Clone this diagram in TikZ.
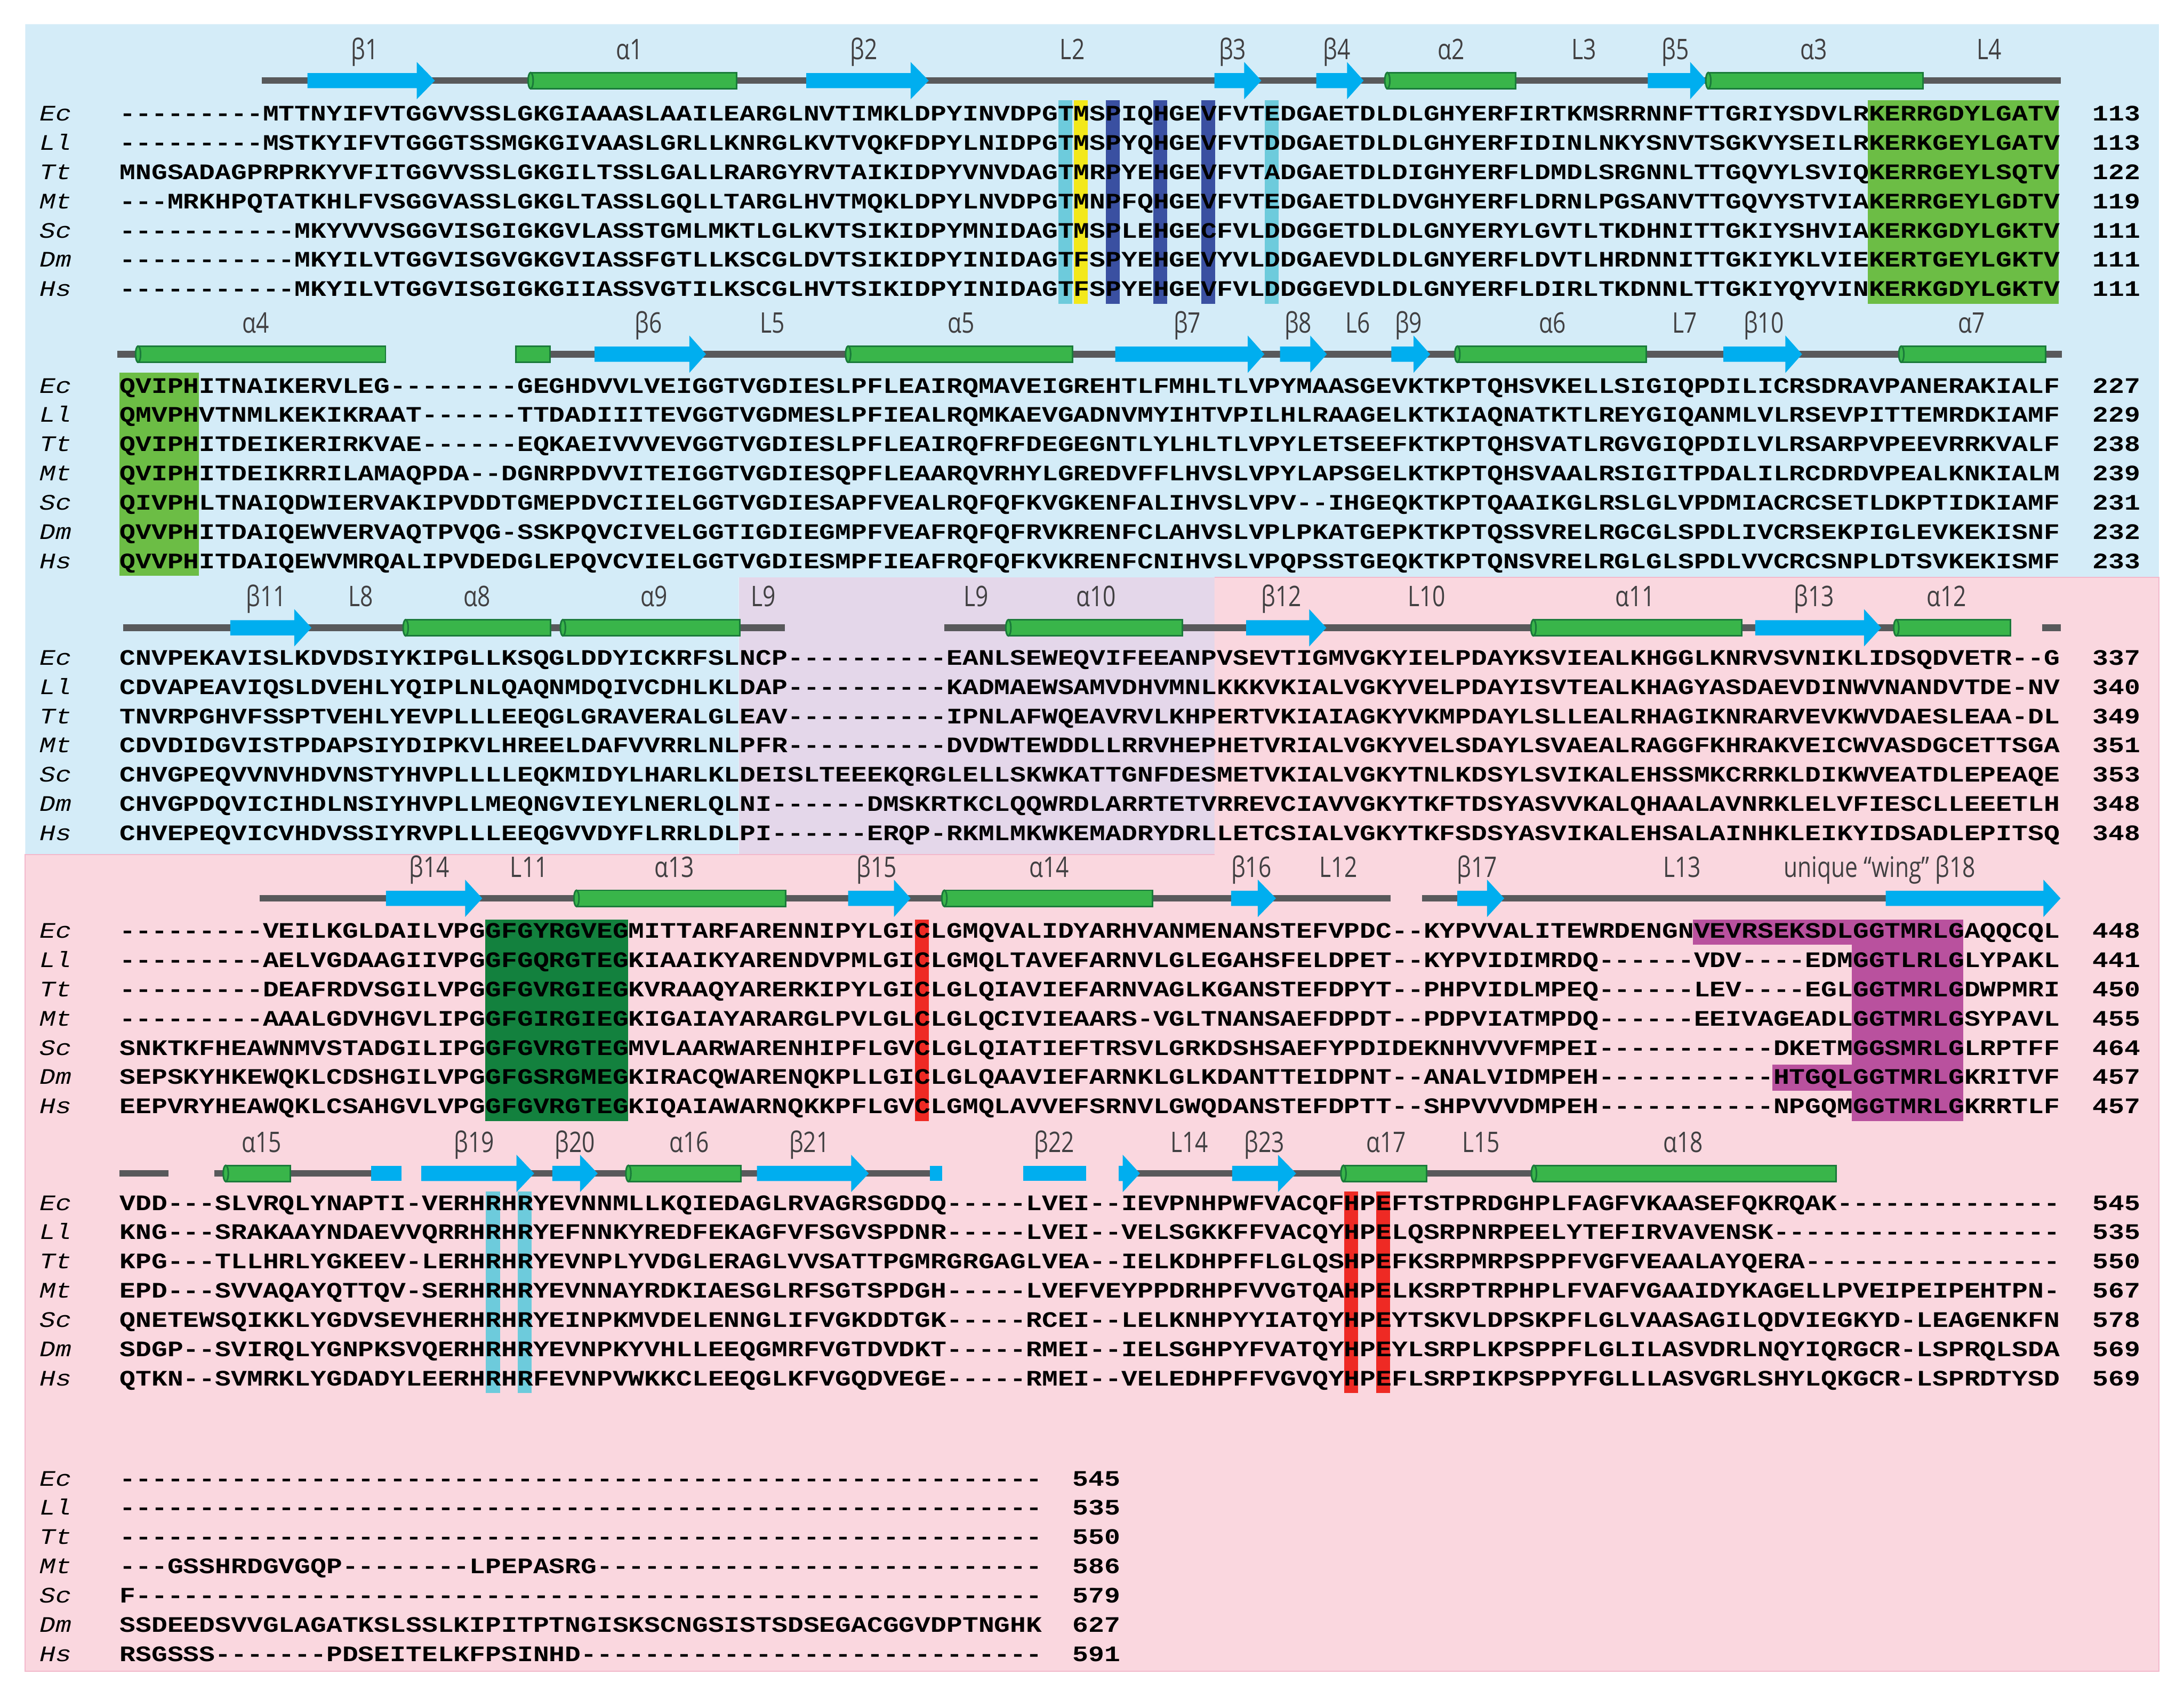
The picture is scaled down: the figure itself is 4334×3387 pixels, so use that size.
\documentclass[tikz,border=0pt]{standalone}
\usepackage{fontspec}
\usetikzlibrary{calc}
\newfontfamily\seqfont{Liberation Mono}[Ligatures=TeXOff, FakeStretch=1.1964]
\newfontfamily\lblfont{Open Sans}[FakeStretch=0.8]
\definecolor{bgblue}{HTML}{D4ECF8}
\definecolor{bgpink}{HTML}{FAD7DF}
\definecolor{bglav}{HTML}{E4D7EA}
\definecolor{pinkline}{HTML}{F2B8CB}
\definecolor{strandblue}{HTML}{00AEEF}
\definecolor{helixgreen}{HTML}{39B54A}
\definecolor{helixdark}{HTML}{1A7A3A}
\definecolor{bargrey}{HTML}{58595B}
\definecolor{lblgrey}{HTML}{414042}
\definecolor{hlcyan}{HTML}{6DCBDC}
\definecolor{hlyellow}{HTML}{F3E81A}
\definecolor{hldblue}{HTML}{3A50A1}
\definecolor{hlgreen}{HTML}{6CBD45}
\definecolor{hldgreen}{HTML}{13813E}
\definecolor{hlred}{HTML}{EE2A24}
\definecolor{hlmag}{HTML}{B9519E}
\tikzset{
  seqrow/.style={font=\seqfont\bfseries\fontsize{12.5}{14}\selectfont, inner sep=0pt, anchor=base west},
  spname/.style={font=\seqfont\itshape\fontsize{12.5}{14}\selectfont, inner sep=0pt, anchor=base west},
  resnum/.style={font=\seqfont\bfseries\fontsize{12.5}{14}\selectfont, inner sep=0pt, anchor=base west},
  sslabel/.style={font=\lblfont\fontsize{16}{18}\selectfont, text=lblgrey, inner sep=0pt, anchor=base},
  ssbar/.style={draw=bargrey, line width=3.7pt},
  helixbox/.style={draw=helixdark, fill=helixgreen, line width=0.9pt}
}
% strand: start, head base, tip, y
\newcommand{\sstrand}[4]{\fill[strandblue] (#1,#4-15) -- (#2,#4-15) -- (#2,#4-37) -- (#3,#4) -- (#2,#4+37) -- (#2,#4+15) -- (#1,#4+15) -- cycle;}
% helix: start, end, y
\newcommand{\shelix}[3]{\draw[helixbox] (#1,#3-16) rectangle (#2,#3+16);
  \draw[helixbox] (#1,#3) ellipse [x radius=5, y radius=16];}
\newcommand{\sblue}[3]{\fill[strandblue] (#1,#3-15) rectangle (#2,#3+15);}
% highlight over columns c1..c2
\newcommand{\colhl}[5]{\fill[#1] ({237+(#2-1)*31.54},#4) rectangle ({237+#3*31.54},#5);}
\newcommand{\onehl}[4]{\fill[#1] ({239+(#2-1)*31.54},#3) rectangle ({235+#2*31.54},#4);}

\begin{document}
\begin{tikzpicture}[x=0.01cm, y=-0.01cm]
\useasboundingbox (0,0) rectangle (4334,3387);
\fill[white] (0,0) rectangle (4334,3387);

% backgrounds
\fill[bgblue] (50,48) -- (4284,48) -- (4284,1146) -- (1466,1146) -- (1466,1696) -- (50,1696) -- cycle;
\fill[bglav] (1466,1146) rectangle (2410,1696);
\fill[bgpink] (2410,1146) -- (4284,1146) -- (4284,3317) -- (50,3317) -- (50,1696) -- (2410,1696) -- cycle;
\draw[pinkline, line width=0.5pt] (2410,1146) -- (4284,1146) -- (4284,3317) -- (50,3317) -- (50,1696) -- (2410,1696);

% block 1 highlights
\onehl{hlcyan}{60}{199}{603}
\onehl{hlyellow}{61}{199}{603}
\onehl{hldblue}{63}{199}{603}
\onehl{hldblue}{66}{199}{603}
\onehl{hldblue}{69}{199}{603}
\onehl{hlcyan}{73}{199}{603}
\colhl{hlgreen}{111}{122}{199}{603}
% block 2
\colhl{hlgreen}{1}{5}{740}{1143}
% block 4
\colhl{hldgreen}{24}{32}{1825}{2225}
\onehl{hlred}{51}{1825}{2225}
\colhl{hlmag}{100}{116}{1825}{1875}
\colhl{hlmag}{110}{116}{1825}{2225}
\colhl{hlmag}{105}{109}{2113}{2165}
% block 5
\onehl{hlcyan}{24}{2365}{2765}
\onehl{hlcyan}{26}{2365}{2765}
\onehl{hlred}{78}{2365}{2765}
\onehl{hlred}{80}{2365}{2765}

% block 1 structure
\draw[ssbar] (519,160) -- (4089,160);
\sstrand{610}{827}{863}{160}
\shelix{1053}{1462}{160}
\sstrand{1600}{1807}{1843}{160}
\sstrand{2410}{2469}{2503}{160}
\sstrand{2612}{2673}{2706}{160}
\shelix{2753}{3008}{160}
\sstrand{3270}{3354}{3387}{160}
\shelix{3390}{3816}{160}
\foreach \lx/\lt [count=\k] in {724/β1, 1249/α1, 1714/β2, 2128/L2, 2446/β3, 2653/β4, 2880/α2, 3143/L3, 3325/β5, 3599/α3, 3947/L4}
  \node[sslabel] (ss1-\k) at (\lx,118) {\lt};

% block 2 structure
\draw[ssbar] (233,703) -- (274,703);
\draw[ssbar] (1024,703) -- (4092,703);
\shelix{274}{765}{703}
\draw[helixbox] (1024,687) rectangle (1091,719);
\sstrand{1180}{1368}{1401}{703}
\shelix{1683}{2128}{703}
\sstrand{2213}{2476}{2509}{703}
\sstrand{2540}{2600}{2633}{703}
\sstrand{2761}{2805}{2838}{703}
\shelix{2892}{3267}{703}
\sstrand{3420}{3543}{3576}{703}
\shelix{3773}{4059}{703}
\foreach \lx/\lt [count=\k] in {508/α4, 1287/β6, 1533/L5, 1907/α5, 2356/β7, 2576/β8, 2695/L6, 2795/β9, 3081/α6, 3343/L7, 3500/β10, 3912/α7}
  \node[sslabel] (ss2-\k) at (\lx,661) {\lt};

% block 3 structure
\draw[ssbar] (244,1246) -- (1557,1246);
\draw[ssbar] (1874,1246) -- (3989,1246);
\draw[ssbar] (4052,1246) -- (4089,1246);
\sstrand{457}{584}{618}{1246}
\shelix{805}{1093}{1246}
\shelix{1117}{1468}{1246}
\shelix{2001}{2346}{1246}
\sstrand{2473}{2598}{2632}{1246}
\shelix{3043}{3456}{1246}
\sstrand{3483}{3699}{3733}{1246}
\shelix{3763}{3989}{1246}
\foreach \lx/\lt [count=\k] in {528/β11, 716/L8, 947/α8, 1298/α9, 1515/L9, 1937/L9, 2175/α10, 2543/β12, 2831/L10, 3245/α11, 3600/β13, 3863/α12}
  \node[sslabel] (ss3-\k) at (\lx,1204) {\lt};

% block 4 structure
\draw[ssbar] (515,1783) -- (2759,1783);
\draw[ssbar] (2822,1783) -- (3742,1783);
\sstrand{766}{923}{957}{1783}
\shelix{1144}{1559}{1783}
\sstrand{1683}{1774}{1807}{1783}
\shelix{1874}{2287}{1783}
\sstrand{2443}{2496}{2532}{1783}
\sstrand{2892}{2951}{2985}{1783}
\sstrand{3742}{4055}{4089}{1783}
\foreach \lx/\lt [count=\k] in {852/β14, 1050/L11, 1338/α13, 1740/β15, 2082/α14, 2483/β16, 2656/L12, 2931/β17, 3338/L13, 3730/unique “wing” β18}
  \node[sslabel] (ss4-\k) at (\lx,1741) {\lt};

% block 5 structure
\draw[ssbar] (237,2329) -- (334,2329);
\draw[ssbar] (425,2329) -- (736,2329);
\draw[ssbar] (836,2329) -- (1870,2329);
\draw[ssbar] (2220,2329) -- (3044,2329);
\shelix{448}{576}{2329}
\sblue{736}{797}{2329}
\sstrand{836}{1025}{1060}{2329}
\sstrand{1096}{1151}{1186}{2329}
\shelix{1247}{1470}{2329}
\sstrand{1502}{1689}{1724}{2329}
\sblue{1845}{1870}{2329}
\sblue{2031}{2155}{2329}
\sstrand{2220}{2228}{2262}{2329}
\sstrand{2445}{2536}{2572}{2329}
\shelix{2666}{2831}{2329}
\shelix{3044}{3644}{2329}
\foreach \lx/\lt [count=\k] in {519/α15, 941/β19, 1141/β20, 1368/α16, 1606/β21, 2092/β22, 2360/L14, 2509/β23, 2751/α17, 2939/L15, 3340/α18}
  \node[sslabel] (ss5-\k) at (\lx,2287) {\lt};

% block 1 sequences
\foreach \sp/\sq/\nr [count=\i from 0] in {
  Ec/---------MTTNYIFVTGGVVSSLGKGIAAASLAAILEARGLNVTIMKLDPYINVDPGTMSPIQHGEVFVTEDGAETDLDLGHYERFIRTKMSRRNNFTTGRIYSDVLRKERRGDYLGATV/113,
  Ll/---------MSTKYIFVTGGGTSSMGKGIVAASLGRLLKNRGLKVTVQKFDPYLNIDPGTMSPYQHGEVFVTDDGAETDLDLGHYERFIDINLNKYSNVTSGKVYSEILRKERKGEYLGATV/113,
  Tt/MNGSADAGPRPRKYVFITGGVVSSLGKGILTSSLGALLRARGYRVTAIKIDPYVNVDAGTMRPYEHGEVFVTADGAETDLDIGHYERFLDMDLSRGNNLTTGQVYLSVIQKERRGEYLSQTV/122,
  Mt/---MRKHPQTATKHLFVSGGVASSLGKGLTASSLGQLLTARGLHVTMQKLDPYLNVDPGTMNPFQHGEVFVTEDGAETDLDVGHYERFLDRNLPGSANVTTGQVYSTVIAKERRGEYLGDTV/119,
  Sc/-----------MKYVVVSGGVISGIGKGVLASSTGMLMKTLGLKVTSIKIDPYMNIDAGTMSPLEHGECFVLDDGGETDLDLGNYERYLGVTLTKDHNITTGKIYSHVIAKERKGDYLGKTV/111,
  Dm/-----------MKYILVTGGVISGVGKGVIASSFGTLLKSCGLDVTSIKIDPYINIDAGTFSPYEHGEVYVLDDGAEVDLDLGNYERFLDVTLHRDNNITTGKIYKLVIEKERTGEYLGKTV/111,
  Hs/-----------MKYILVTGGVISGIGKGIIASSVGTILKSCGLHVTSIKIDPYINIDAGTFSPYEHGEVFVLDDGGEVDLDLGNYERFLDIRLTKDNNLTTGKIYQYVINKERKGDYLGKTV/111}{
  \node[spname] (n1-\i) at (78,240+58*\i) {\sp};
  \node[seqrow] (s1-\i) at (237,240+58*\i) {\sq};
  \node[resnum] (r1-\i) at (4152,240+58*\i) {\nr};
}

% block 2 sequences
\foreach \sp/\sq/\nr [count=\i from 0] in {
  Ec/QVIPHITNAIKERVLEG--------GEGHDVVLVEIGGTVGDIESLPFLEAIRQMAVEIGREHTLFMHLTLVPYMAASGEVKTKPTQHSVKELLSIGIQPDILICRSDRAVPANERAKIALF/227,
  Ll/QMVPHVTNMLKEKIKRAAT------TTDADIIITEVGGTVGDMESLPFIEALRQMKAEVGADNVMYIHTVPILHLRAAGELKTKIAQNATKTLREYGIQANMLVLRSEVPITTEMRDKIAMF/229,
  Tt/QVIPHITDEIKERIRKVAE------EQKAEIVVVEVGGTVGDIESLPFLEAIRQFRFDEGEGNTLYLHLTLVPYLETSEEFKTKPTQHSVATLRGVGIQPDILVLRSARPVPEEVRRKVALF/238,
  Mt/QVIPHITDEIKRRILAMAQPDA--DGNRPDVVITEIGGTVGDIESQPFLEAARQVRHYLGREDVFFLHVSLVPYLAPSGELKTKPTQHSVAALRSIGITPDALILRCDRDVPEALKNKIALM/239,
  Sc/QIVPHLTNAIQDWIERVAKIPVDDTGMEPDVCIIELGGTVGDIESAPFVEALRQFQFKVGKENFALIHVSLVPV--IHGEQKTKPTQAAIKGLRSLGLVPDMIACRCSETLDKPTIDKIAMF/231,
  Dm/QVVPHITDAIQEWVERVAQTPVQG-SSKPQVCIVELGGTIGDIEGMPFVEAFRQFQFRVKRENFCLAHVSLVPLPKATGEPKTKPTQSSVRELRGCGLSPDLIVCRSEKPIGLEVKEKISNF/232,
  Hs/QVVPHITDAIQEWVMRQALIPVDEDGLEPQVCVIELGGTVGDIESMPFIEAFRQFQFKVKRENFCNIHVSLVPQPSSTGEQKTKPTQNSVRELRGLGLSPDLVVCRCSNPLDTSVKEKISMF/233}{
  \node[spname] (n2-\i) at (78,780+58*\i) {\sp};
  \node[seqrow] (s2-\i) at (237,780+58*\i) {\sq};
  \node[resnum] (r2-\i) at (4152,780+58*\i) {\nr};
}

% block 3 sequences
\foreach \sp/\sq/\nr [count=\i from 0] in {
  Ec/CNVPEKAVISLKDVDSIYKIPGLLKSQGLDDYICKRFSLNCP----------EANLSEWEQVIFEEANPVSEVTIGMVGKYIELPDAYKSVIEALKHGGLKNRVSVNIKLIDSQDVETR--G/337,
  Ll/CDVAPEAVIQSLDVEHLYQIPLNLQAQNMDQIVCDHLKLDAP----------KADMAEWSAMVDHVMNLKKKVKIALVGKYVELPDAYISVTEALKHAGYASDAEVDINWVNANDVTDE-NV/340,
  Tt/TNVRPGHVFSSPTVEHLYEVPLLLEEQGLGRAVERALGLEAV----------IPNLAFWQEAVRVLKHPERTVKIAIAGKYVKMPDAYLSLLEALRHAGIKNRARVEVKWVDAESLEAA-DL/349,
  Mt/CDVDIDGVISTPDAPSIYDIPKVLHREELDAFVVRRLNLPFR----------DVDWTEWDDLLRRVHEPHETVRIALVGKYVELSDAYLSVAEALRAGGFKHRAKVEICWVASDGCETTSGA/351,
  Sc/CHVGPEQVVNVHDVNSTYHVPLLLLEQKMIDYLHARLKLDEISLTEEEKQRGLELLSKWKATTGNFDESMETVKIALVGKYTNLKDSYLSVIKALEHSSMKCRRKLDIKWVEATDLEPEAQE/353,
  Dm/CHVGPDQVICIHDLNSIYHVPLLMEQNGVIEYLNERLQLNI------DMSKRTKCLQQWRDLARRTETVRREVCIAVVGKYTKFTDSYASVVKALQHAALAVNRKLELVFIESCLLEEETLH/348,
  Hs/CHVEPEQVICVHDVSSIYRVPLLLEEQGVVDYFLRRLDLPI------ERQP-RKMLMKWKEMADRYDRLLETCSIALVGKYTKFSDSYASVIKALEHSALAINHKLEIKYIDSADLEPITSQ/348}{
  \node[spname] (n3-\i) at (78,1320+58*\i) {\sp};
  \node[seqrow] (s3-\i) at (237,1320+58*\i) {\sq};
  \node[resnum] (r3-\i) at (4152,1320+58*\i) {\nr};
}

% block 4 sequences
\foreach \sp/\sq/\nr [count=\i from 0] in {
  Ec/---------VEILKGLDAILVPGGFGYRGVEGMITTARFARENNIPYLGICLGMQVALIDYARHVANMENANSTEFVPDC--KYPVVALITEWRDENGNVEVRSEKSDLGGTMRLGAQQCQL/448,
  Ll/---------AELVGDAAGIIVPGGFGQRGTEGKIAAIKYARENDVPMLGICLGMQLTAVEFARNVLGLEGAHSFELDPET--KYPVIDIMRDQ------VDV----EDMGGTLRLGLYPAKL/441,
  Tt/---------DEAFRDVSGILVPGGFGVRGIEGKVRAAQYARERKIPYLGICLGLQIAVIEFARNVAGLKGANSTEFDPYT--PHPVIDLMPEQ------LEV----EGLGGTMRLGDWPMRI/450,
  Mt/---------AAALGDVHGVLIPGGFGIRGIEGKIGAIAYARARGLPVLGLCLGLQCIVIEAARS-VGLTNANSAEFDPDT--PDPVIATMPDQ------EEIVAGEADLGGTMRLGSYPAVL/455,
  Sc/SNKTKFHEAWNMVSTADGILIPGGFGVRGTEGMVLAARWARENHIPFLGVCLGLQIATIEFTRSVLGRKDSHSAEFYPDIDEKNHVVVFMPEI-----------DKETMGGSMRLGLRPTFF/464,
  Dm/SEPSKYHKEWQKLCDSHGILVPGGFGSRGMEGKIRACQWARENQKPLLGICLGLQAAVIEFARNKLGLKDANTTEIDPNT--ANALVIDMPEH-----------HTGQLGGTMRLGKRITVF/457,
  Hs/EEPVRYHEAWQKLCSAHGVLVPGGFGVRGTEGKIQAIAWARNQKKPFLGVCLGMQLAVVEFSRNVLGWQDANSTEFDPTT--SHPVVVDMPEH-----------NPGQMGGTMRLGKRRTLF/457}{
  \node[spname] (n4-\i) at (78,1862+58*\i) {\sp};
  \node[seqrow] (s4-\i) at (237,1862+58*\i) {\sq};
  \node[resnum] (r4-\i) at (4152,1862+58*\i) {\nr};
}

% block 5 sequences
\foreach \sp/\sq/\nr [count=\i from 0] in {
  Ec/VDD---SLVRQLYNAPTI-VERHRHRYEVNNMLLKQIEDAGLRVAGRSGDDQ-----LVEI--IEVPNHPWFVACQFHPEFTSTPRDGHPLFAGFVKAASEFQKRQAK--------------/545,
  Ll/KNG---SRAKAAYNDAEVVQRRHRHRYEFNNKYREDFEKAGFVFSGVSPDNR-----LVEI--VELSGKKFFVACQYHPELQSRPNRPEELYTEFIRVAVENSK------------------/535,
  Tt/KPG---TLLHRLYGKEEV-LERHRHRYEVNPLYVDGLERAGLVVSATTPGMRGRGAGLVEA--IELKDHPFFLGLQSHPEFKSRPMRPSPPFVGFVEAALAYQERA----------------/550,
  Mt/EPD---SVVAQAYQTTQV-SERHRHRYEVNNAYRDKIAESGLRFSGTSPDGH-----LVEFVEYPPDRHPFVVGTQAHPELKSRPTRPHPLFVAFVGAAIDYKAGELLPVEIPEIPEHTPN-/567,
  Sc/QNETEWSQIKKLYGDVSEVHERHRHRYEINPKMVDELENNGLIFVGKDDTGK-----RCEI--LELKNHPYYIATQYHPEYTSKVLDPSKPFLGLVAASAGILQDVIEGKYD-LEAGENKFN/578,
  Dm/SDGP--SVIRQLYGNPKSVQERHRHRYEVNPKYVHLLEEQGMRFVGTDVDKT-----RMEI--IELSGHPYFVATQYHPEYLSRPLKPSPPFLGLILASVDRLNQYIQRGCR-LSPRQLSDA/569,
  Hs/QTKN--SVMRKLYGDADYLEERHRHRFEVNPVWKKCLEEQGLKFVGQDVEGE-----RMEI--VELEDHPFFVGVQYHPEFLSRPIKPSPPYFGLLLASVGRLSHYLQKGCR-LSPRDTYSD/569}{
  \node[spname] (n5-\i) at (78,2402+58*\i) {\sp};
  \node[seqrow] (s5-\i) at (237,2402+58*\i) {\sq};
  \node[resnum] (r5-\i) at (4152,2402+58*\i) {\nr};
}

% block 6 sequences
\foreach \sp/\sq/\nr [count=\i from 0] in {
  Ec/----------------------------------------------------------/545,
  Ll/----------------------------------------------------------/535,
  Tt/----------------------------------------------------------/550,
  Mt/---GSSHRDGVGQP--------LPEPASRG----------------------------/586,
  Sc/F---------------------------------------------------------/579,
  Dm/SSDEEDSVVGLAGATKSLSSLKIPITPTNGISKSCNGSISTSDSEGACGGVDPTNGHK/627,
  Hs/RSGSSS-------PDSEITELKFPSINHD-----------------------------/591}{
  \node[spname] (n6-\i) at (78,2949+58*\i) {\sp};
  \node[seqrow] (s6-\i) at (237,2949+58*\i) {\sq};
  \node[resnum] (r6-\i) at (2128,2949+58*\i) {\nr};
}
\end{tikzpicture}
\end{document}
